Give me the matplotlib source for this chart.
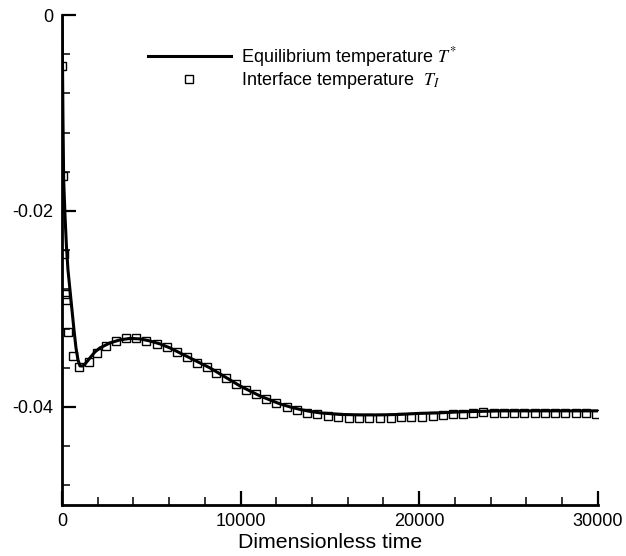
import numpy as np
import matplotlib.pyplot as plt
from matplotlib.ticker import MultipleLocator

plt.rcParams['font.family'] = ['Liberation Sans', 'DejaVu Sans']
plt.rcParams['mathtext.fontset'] = 'stix'
plt.rcParams['axes.unicode_minus'] = False
plt.rcParams['xtick.direction'] = 'in'
plt.rcParams['ytick.direction'] = 'in'

# equilibrium temperature T* (solid line)
t_line = [0, 28, 56, 95, 168, 252, 336, 448, 560, 672, 784, 896, 1007, 1175,
          1343, 1567, 1847, 2127, 2687, 3246, 3806, 4366, 4925, 5485, 6045,
          6604, 7164, 7724, 8284, 8843, 9403, 9963, 10522, 11082, 11642,
          12201, 12761, 13321, 13881, 14440, 15560, 16679, 17798, 18918,
          20037, 21157, 22276, 23396, 24515, 26194, 27873, 30000]
T_eq = [0.0, -0.00459, -0.01071, -0.01684, -0.02041, -0.02367, -0.02602,
        -0.02806, -0.03010, -0.03214, -0.03398, -0.03520, -0.03582, -0.03582,
        -0.03551, -0.03500, -0.03439, -0.03398, -0.03347, -0.03316, -0.03301,
        -0.03306, -0.03327, -0.03357, -0.03398, -0.03449, -0.03500, -0.03551,
        -0.03602, -0.03663, -0.03724, -0.03786, -0.03837, -0.03888, -0.03929,
        -0.03969, -0.04000, -0.04026, -0.04046, -0.04061, -0.04077, -0.04082,
        -0.04082, -0.04077, -0.04066, -0.04061, -0.04051, -0.04046, -0.04041,
        -0.04041, -0.04041, -0.04041]

# interface temperature T_I (square symbols)
t_pts = [28, 56, 140, 196, 224, 336, 616, 950, 1510, 1960, 2460, 3020, 3580,
         4140, 4700, 5320, 5880, 6440, 7000, 7560, 8120, 8620, 9180, 9740,
         10300, 10860, 11420, 11980, 12590, 13150, 13710, 14270, 14890, 15450,
         16060, 16620, 17180, 17800, 18410, 18970, 19530, 20150, 20770, 21330,
         21880, 22440, 23000, 23560, 24180, 24740, 25300, 25860, 26470, 27030,
         27590, 28150, 28770, 29330, 29890]
T_int = [-0.0052, -0.0164, -0.0244, -0.0285, -0.0291, -0.0324, -0.0348,
         -0.03592, -0.03541, -0.03449, -0.03378, -0.03327, -0.03296, -0.03296,
         -0.03327, -0.03357, -0.03388, -0.03439, -0.03490, -0.03551, -0.03592,
         -0.03653, -0.03704, -0.03765, -0.03827, -0.03867, -0.03918, -0.03959,
         -0.04000, -0.04031, -0.04061, -0.04071, -0.04092, -0.04102, -0.04112,
         -0.04112, -0.04112, -0.04112, -0.04112, -0.04102, -0.04102, -0.04102,
         -0.04092, -0.04082, -0.04071, -0.04071, -0.04061, -0.04051, -0.04061,
         -0.04061, -0.04061, -0.04061, -0.04061, -0.04061, -0.04061, -0.04061,
         -0.04061, -0.04061, -0.04071]

fig = plt.figure(figsize=(6.26, 5.56), dpi=100)
ax = fig.add_axes([0.099, 0.092, 0.856, 0.881])

ax.plot(t_line, T_eq, color='black', lw=2.2, label='Equilibrium temperature $T^{*}$')
ax.plot(t_pts, T_int, ls='none', marker='s', ms=6, mfc='none', mec='black',
        mew=1.0, label='Interface temperature  $T_I$')

ax.set_xlim(0, 30000)
ax.set_ylim(-0.05, 0)
ax.xaxis.set_major_locator(MultipleLocator(10000))
ax.xaxis.set_minor_locator(MultipleLocator(2000))
ax.yaxis.set_major_locator(MultipleLocator(0.02))
ax.yaxis.set_minor_locator(MultipleLocator(0.004))
ax.yaxis.set_major_formatter(plt.FuncFormatter(lambda v, p: '0' if abs(v) < 1e-9 else f'{v:.2f}'))

for s in ['top', 'right']:
    ax.spines[s].set_visible(False)
for s in ['left', 'bottom']:
    ax.spines[s].set_linewidth(2)

ax.tick_params(which='major', direction='in', length=10, width=1.6, labelsize=13, pad=6)
ax.tick_params(which='minor', direction='in', length=6, width=1.1)

ax.set_xlabel('Dimensionless time', fontsize=15.3, labelpad=2)

ax.legend(loc='upper left', bbox_to_anchor=(0.13, 0.972), frameon=False,
          fontsize=13, handlelength=4.6, handletextpad=0.55, labelspacing=0.05)

fig.savefig('out.png', dpi=100)
